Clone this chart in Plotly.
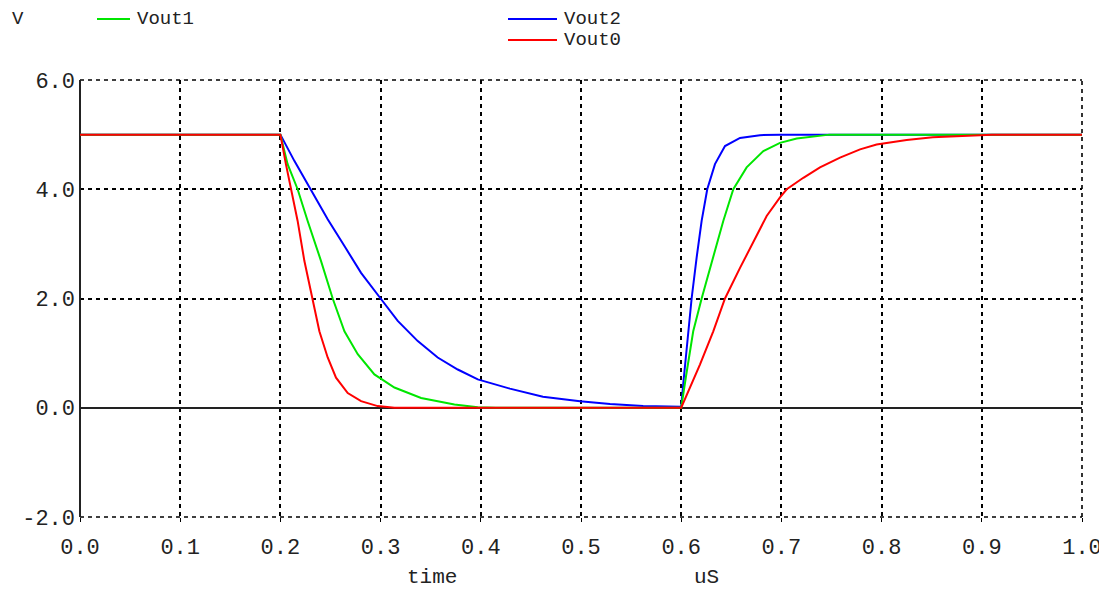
import plotly.graph_objects as go

# ---- data (time in uS, voltage in V) ----
t_vout2 = [0, 0.2, 0.2139, 0.2305, 0.2472, 0.2639, 0.2805, 0.3, 0.3171, 0.3371, 0.357,
           0.377, 0.397, 0.429, 0.462, 0.499, 0.529, 0.562, 0.6,
           0.602, 0.607, 0.6104, 0.6154, 0.6204, 0.626, 0.6337, 0.6437, 0.6587, 0.6786,
           0.6986, 1.0]
v_vout2 = [5, 5, 4.52, 4.0, 3.45, 2.96, 2.47, 2.0, 1.59, 1.22, 0.92,
           0.70, 0.52, 0.35, 0.2, 0.12, 0.07, 0.03, 0.02,
           0.43, 1.40, 2.0, 2.75, 3.42, 4.0, 4.46, 4.79, 4.94, 4.99,
           5.0, 5.0]

t_vout1 = [0, 0.2, 0.2072, 0.2172, 0.2272, 0.2405, 0.2522, 0.2639, 0.2772, 0.2938, 0.3138,
           0.3404, 0.3737, 0.397, 0.415, 0.6,
           0.605, 0.612, 0.6204, 0.632, 0.642, 0.652, 0.6653, 0.682, 0.6986, 0.7153,
           0.732, 0.748, 1.0]
v_vout1 = [5, 5, 4.46, 4.0, 3.42, 2.69, 2.0, 1.40, 0.98, 0.61, 0.37,
           0.18, 0.06, 0.01, 0.0, 0.0,
           0.6, 1.40, 2.0, 2.75, 3.42, 4.0, 4.40, 4.70, 4.85, 4.93,
           4.96, 5.0, 5.0]

t_vout0 = [0, 0.2, 0.2055, 0.2105, 0.2172, 0.2239, 0.2322, 0.2389, 0.2472, 0.2555, 0.2672,
           0.2805, 0.2971, 0.3138, 0.6,
           0.6187, 0.632, 0.6437, 0.6587, 0.672, 0.6853, 0.6986, 0.7053, 0.7219, 0.7385,
           0.7585, 0.7785, 0.795, 0.825, 0.851, 0.898, 0.91, 1.0]
v_vout0 = [5, 5, 4.46, 4.0, 3.42, 2.69, 2.0, 1.40, 0.92, 0.55, 0.27,
           0.12, 0.03, 0.0, 0.0,
           0.79, 1.40, 2.0, 2.56, 3.05, 3.51, 3.85, 4.0, 4.21, 4.40,
           4.58, 4.73, 4.82, 4.9, 4.95, 4.98, 5.0, 5.0]

x_ticks = [0.0, 0.1, 0.2, 0.3, 0.4, 0.5, 0.6, 0.7, 0.8, 0.9, 1.0]
x_ticktext = ["0.0", "0.1", "0.2", "0.3", "0.4", "0.5", "0.6", "0.7", "0.8", "0.9", "1.0"]
y_ticks = [-2, 0, 2, 4, 6]
y_ticktext = ["-2.0", "0.0", "2.0", "4.0", "6.0"]

series_names = ["Vout2", "Vout1", "Vout0"]
series_colors = ["#0000FF", "#00E600", "#FF0000"]

FONT = "Liberation Mono"
TXT = "#222222"
OFF = 8                      # page body margin of the browser
W, H = 1107 - OFF, 591 - OFF
L, R, T, B = 80 - OFF, 25, 80 - OFF, 74

fig = go.Figure()
for name, tx, vy, col in zip(series_names, [t_vout2, t_vout1, t_vout0],
                             [v_vout2, v_vout1, v_vout0], series_colors):
    fig.add_trace(go.Scatter(x=tx, y=vy, mode="lines", name=name,
                             line=dict(color=col, width=2), showlegend=False))

DASH = "4px,4px"
grid = dict(showgrid=True, gridcolor="black", gridwidth=1.6, griddash=DASH,
            zeroline=True, zerolinecolor="#222222", zerolinewidth=2, showline=False,
            automargin=False)

fig.update_layout(
    width=W, height=H,
    margin=dict(l=L, r=R, t=T, b=B, autoexpand=False),
    paper_bgcolor="white", plot_bgcolor="white",
    font=dict(family=FONT, size=22, color=TXT),
    xaxis=dict(range=[0, 1], tickvals=x_ticks, ticktext=x_ticktext, ticks="outside",
               ticklen=4, tickcolor="black", ticklabelstandoff=6, **grid),
    yaxis=dict(range=[-2, 6], tickvals=y_ticks, ticktext=y_ticktext, ticks="",
               ticklabelstandoff=4, **grid),
)

# dashed frame at top, right and bottom edges
for x0, y0, x1, y1 in [(0, 1, 1, 1), (1, 0, 1, 1), (0, 0, 1, 0)]:
    fig.add_shape(type="line", xref="paper", yref="paper", x0=x0, y0=y0, x1=x1, y1=y1,
                  line=dict(color="black", width=1.6, dash=DASH), layer="below")

pw, ph = W - L - R, H - T - B
def px(x):                   # screen pixel -> paper x
    return (x - OFF - L) / pw
def py(y):                   # screen pixel -> paper y
    return (H - B - (y - OFF)) / ph

# axis labels
for text, x, y, sz in [("V", 18, 19, 19), ("time", 432, 577, 21), ("uS", 706, 577, 21)]:
    fig.add_annotation(text=text, x=px(x), y=py(y), xref="paper", yref="paper",
                       xanchor="center", yanchor="middle", showarrow=False,
                       font=dict(family=FONT, size=sz, color=TXT))

# legend entries
legend_items = [("Vout1", "#00E600", 97, 130, 19), ("Vout2", "#0000FF", 508, 557, 19),
                ("Vout0", "#FF0000", 508, 557, 40)]
for text, col, x0, x1, y in legend_items:
    fig.add_shape(type="line", xref="paper", yref="paper", x0=px(x0), x1=px(x1),
                  y0=py(y), y1=py(y), line=dict(color=col, width=2))
    fig.add_annotation(text=text, x=px(x1 + 5), y=py(y), xref="paper", yref="paper",
                       xanchor="left", yanchor="middle", showarrow=False,
                       font=dict(family=FONT, size=19, color=TXT))

fig.write_html("out.html")
